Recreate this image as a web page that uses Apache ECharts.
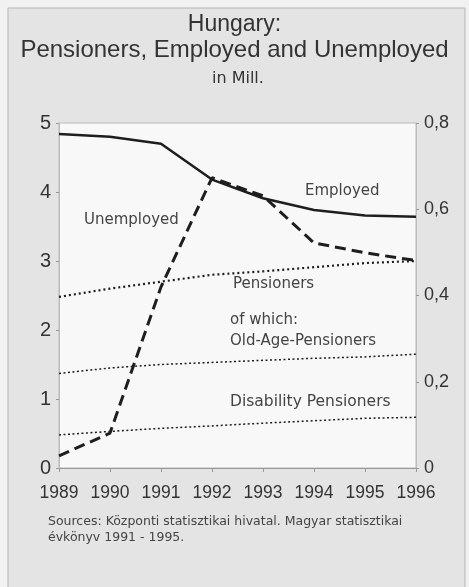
<!DOCTYPE html>
<html><head><meta charset="utf-8">
<script src="https://cdn.jsdelivr.net/npm/echarts@6/dist/echarts.min.js"></script>
<style>html,body{margin:0;padding:0;background:#f1f1f1}#c{width:469px;height:587px}</style>
</head><body><div id="c"></div>
<script>
var years = ['1989','1990','1991','1992','1993','1994','1995','1996'];
var employed = [4.84, 4.80, 4.70, 4.18, 3.91, 3.74, 3.66, 3.64];
var unemployed = [0.028, 0.081, 0.42, 0.673, 0.631, 0.522, 0.499, 0.481];
var pensioners = [2.48, 2.60, 2.70, 2.80, 2.85, 2.91, 2.97, 3.00];
var oldAge = [1.37, 1.45, 1.50, 1.53, 1.56, 1.59, 1.61, 1.65];
var disability = [0.48, 0.53, 0.575, 0.61, 0.65, 0.685, 0.72, 0.735];
var leftTicks = [0, 1, 2, 3, 4, 5];
var rightTicks = [0, 0.2, 0.4, 0.6, 0.8];

var chart = echarts.init(document.getElementById('c'));
var ff = '"Liberation Sans", Arial, sans-serif';
var fw = '"DejaVu Sans", sans-serif';
var ink = '#1e1e1e';
function line(name, data, axis, type, width, dash) {
  return {name: name, type: 'line', data: data, yAxisIndex: axis, symbol: 'none', smooth: false,
    lineStyle: {color: ink, width: width, type: dash || type}};
}
chart.setOption({
  backgroundColor: '#f1f1f1',
  animation: false,
  graphic: [
    {type: 'rect', shape: {x: 8, y: 8, width: 457, height: 590}, style: {fill: '#e4e4e4', stroke: '#b5b5b5', lineWidth: 1}, z: -10},
    {type: 'text', left: 'center', top: 13, style: {text: 'Hungary:', font: '23px ' + ff, fill: '#333'}},
    {type: 'text', left: 'center', top: 38, style: {text: 'Pensioners, Employed and Unemployed', font: '24px ' + ff, fill: '#333'}},
    {type: 'text', x: 212, y: 71, style: {text: 'in Mill.', font: '16px ' + fw, fill: '#333'}},
    {type: 'text', x: 84, y: 213, style: {text: 'Unemployed', font: '15px ' + fw, fill: '#444'}},
    {type: 'text', x: 305, y: 184, style: {text: 'Employed', font: '15px ' + fw, fill: '#444'}},
    {type: 'text', x: 233, y: 277, style: {text: 'Pensioners', font: '15px ' + fw, fill: '#444'}},
    {type: 'text', x: 230, y: 313, style: {text: 'of which:', font: '15px ' + fw, fill: '#444'}},
    {type: 'text', x: 230, y: 334, style: {text: 'Old-Age-Pensioners', font: '15px ' + fw, fill: '#444'}},
    {type: 'text', x: 230, y: 394, style: {text: 'Disability Pensioners', font: '15.5px ' + fw, fill: '#444'}},
    {type: 'text', x: 48, y: 514, style: {text: 'Sources: Központi statisztikai hivatal. Magyar statisztikai\névkönyv 1991 - 1995.', font: '12.5px ' + fw, fill: '#444', lineHeight: 16}}
  ],
  grid: {left: 59, right: 53, top: 123, bottom: 119, show: true, backgroundColor: '#f8f8f8', borderColor: '#bbb', borderWidth: 1},
  xAxis: {type: 'category', data: years, boundaryGap: false,
    axisLine: {lineStyle: {color: '#999'}}, axisTick: {show: true, inside: false, length: 4, lineStyle: {color: '#999'}},
    axisLabel: {color: '#333', fontSize: 17.5, fontFamily: ff, margin: 16, interval: 0, hideOverlap: false}},
  yAxis: [
    {type: 'value', min: 0, max: 5, interval: 1, position: 'left',
      axisLine: {show: true, lineStyle: {color: '#bbb'}}, axisTick: {show: true, length: 3, lineStyle: {color: '#999'}},
      splitLine: {show: false},
      axisLabel: {color: '#333', fontSize: 20, fontFamily: ff, margin: 8}},
    {type: 'value', min: 0, max: 0.8, interval: 0.2, position: 'right',
      axisLine: {show: true, lineStyle: {color: '#bbb'}}, axisTick: {show: true, length: 3, lineStyle: {color: '#999'}},
      splitLine: {show: false},
      axisLabel: {color: '#333', fontSize: 18, fontFamily: ff, margin: 8,
        formatter: function (v) { return v === 0 ? '0' : v.toFixed(1).replace('.', ','); }}}
  ],
  series: [
    line('Employed', employed, 0, 'solid', 2.5),
    line('Unemployed', unemployed, 1, 'dashed', 3, [11, 6]),
    line('Pensioners', pensioners, 0, 'dotted', 2.2, [2, 3]),
    line('Old-Age-Pensioners', oldAge, 0, 'dotted', 1.5, [2, 2.5]),
    line('Disability Pensioners', disability, 0, 'dotted', 1.5, [2, 2.5])
  ]
});
</script></body></html>
